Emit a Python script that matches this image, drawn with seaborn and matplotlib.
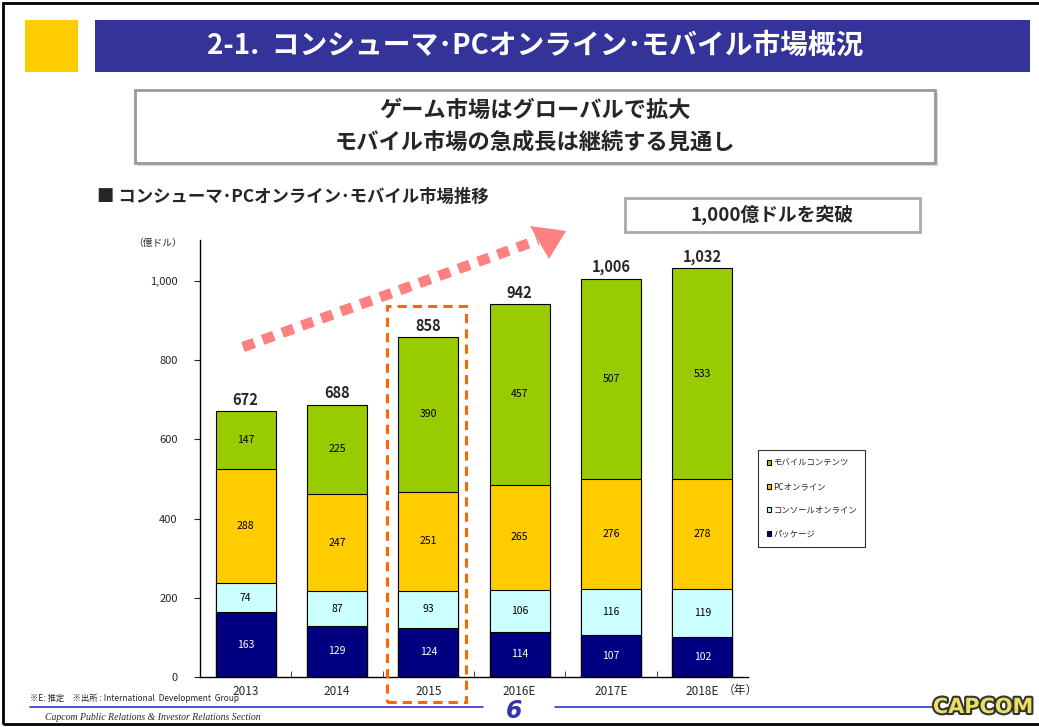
import numpy as np
import pandas as pd
import matplotlib
matplotlib.use("Agg")
import matplotlib.pyplot as plt
import matplotlib.patches as mpatches
import matplotlib.patheffects as pe
import seaborn as sns

sns.set_style("white")
plt.rcParams['font.family'] = ['Noto Sans CJK JP', 'DejaVu Sans']

years = ["2013", "2014", "2015", "2016E", "2017E", "2018E"]
package = [163, 129, 124, 114, 107, 102]
console = [74, 87, 93, 106, 116, 119]
pc = [288, 247, 251, 265, 276, 278]
mobile = [147, 225, 390, 457, 507, 533]
series_names = ["パッケージ", "コンソールオンライン", "PCオンライン", "モバイルコンテンツ"]
colors = ["#000080", "#CCFFFF", "#FFCC00", "#99CC00"]
yticks = [0, 200, 400, 600, 800, 1000]

layers = [package, console, pc, mobile]
cum = np.cumsum(np.array(layers), axis=0)
totals = cum[-1]

W, H = 1039, 727
fig = plt.figure(figsize=(W / 100, H / 100), dpi=100)

def fx(x):
    return x / W

def fy(y):
    return 1 - y / H

# slide frame
fig.add_artist(mpatches.Rectangle((fx(3), fy(724)), fx(1060), fy(3) - fy(724), transform=fig.transFigure,
                                  fill=False, edgecolor="black", linewidth=2))
# title bar
fig.add_artist(mpatches.Rectangle((fx(25), fy(72)), fx(53), fy(20) - fy(72), transform=fig.transFigure,
                                  facecolor="#FFCC00", edgecolor="none"))
fig.add_artist(mpatches.Rectangle((fx(95), fy(72)), fx(935), fy(20) - fy(72), transform=fig.transFigure,
                                  facecolor="#333399", edgecolor="none"))
fig.text(fx(535), fy(46), "2-1.  コンシューマ･PCオンライン･モバイル市場概況", color="white", fontsize=20,
         fontweight="bold", ha="center", va="center")

# headline box
fig.add_artist(mpatches.Rectangle((fx(138), fy(166)), fx(800), fy(93) - fy(166), transform=fig.transFigure,
                                  facecolor="#D9D9D9", edgecolor="none"))
fig.add_artist(mpatches.Rectangle((fx(135), fy(163)), fx(800), fy(90) - fy(163), transform=fig.transFigure,
                                  facecolor="white", edgecolor="#999999", linewidth=2))
fig.text(fx(535), fy(110), "ゲーム市場はグローバルで拡大", fontsize=16, fontweight="bold", ha="center", va="center")
fig.text(fx(535), fy(142), "モバイル市場の急成長は継続する見通し", fontsize=16, fontweight="bold", ha="center", va="center")

# section heading
fig.text(fx(97), fy(197), "■ コンシューマ･PCオンライン･モバイル市場推移", fontsize=12.5, fontweight="bold",
         ha="left", va="center")

# callout box
fig.add_artist(mpatches.Rectangle((fx(625), fy(232)), fx(295), fy(198) - fy(232), transform=fig.transFigure,
                                  facecolor="white", edgecolor="#AAAAAA", linewidth=2))
fig.text(fx(772), fy(215), "1,000億ドルを突破", fontsize=13.5, fontweight="bold", ha="center", va="center")

# main axes
ax = fig.add_axes([fx(200), fy(677), fx(548), fy(240) - fy(677)])
df = pd.DataFrame({"year": years})
for i in range(3, -1, -1):
    df["v"] = cum[i]
    sns.barplot(data=df, x="year", y="v", color=colors[i], ax=ax, width=0.66,
                edgecolor="black", linewidth=0.8, saturation=1, order=years)

ax.set_ylim(0, (677 - 240) / 0.396)
ax.set_xlim(-0.5, 5.5)
ax.set_yticks(yticks)
ax.set_yticklabels([f"{v:,}" for v in yticks], fontsize=8)
ax.set_xticks(range(len(years)))
ax.set_xticklabels(years, fontsize=8.5)
ax.set_xlabel("")
ax.set_ylabel("")
ax.tick_params(axis="x", length=0, pad=6)
ax.tick_params(axis="y", length=4, direction="out", left=True, pad=12)
ax.set_xticks(np.arange(0.5, 5.5, 1), minor=True)
ax.tick_params(axis="x", which="minor", length=4, direction="in", bottom=True)
for s in ["top", "right"]:
    ax.spines[s].set_visible(False)
for s in ["left", "bottom"]:
    ax.spines[s].set_color("black")
    ax.spines[s].set_linewidth(1)

# segment labels
for i, layer in enumerate(layers):
    base = cum[i] - np.array(layer)
    for j, v in enumerate(layer):
        ax.text(j, base[j] + v / 2, str(v), ha="center", va="center", fontsize=7.5,
                color="white" if i == 0 else "black")
for j, t in enumerate(totals):
    ax.text(j, t + 8, f"{t:,}", ha="center", va="bottom", fontsize=10.5, fontweight="bold")

fig.text(fx(158), fy(243), "（億ドル）", fontsize=7, ha="center", va="center")
fig.text(fx(740), fy(690), "（年）", fontsize=8.5, ha="center", va="center")

# legend
handles = [mpatches.Patch(facecolor=colors[i], edgecolor="black", linewidth=0.8, label=series_names[i])
           for i in range(3, -1, -1)]
leg = fig.legend(handles=handles, loc="upper left", bbox_to_anchor=(fx(754), fy(446)), fontsize=6,
                 frameon=True, fancybox=False, edgecolor="black", handlelength=0.5, handleheight=0.5,
                 labelspacing=1.75, handletextpad=0.3, borderpad=1.0)
leg.get_frame().set_linewidth(0.8)

# trend arrow: dashed shaft + triangular head
fig.add_artist(plt.Line2D([fx(243), fx(538)], [fy(347), fy(240)], transform=fig.transFigure,
                          color="#FF8080", linewidth=7.5, linestyle=(0, (1.15, 0.85)),
                          dash_capstyle="butt"))
fig.add_artist(mpatches.Polygon([(fx(566), fy(231)), (fx(530), fy(226)), (fx(549), fy(259))],
                                closed=True, transform=fig.transFigure, facecolor="#FF8080",
                                edgecolor="none"))

# highlight 2015
fig.add_artist(mpatches.Rectangle((fx(387), fy(702)), fx(79), fy(306) - fy(702), transform=fig.transFigure,
                                  fill=False, edgecolor="#FF6600", linewidth=2.2, linestyle=(0, (3, 2))))

# footer
fig.text(fx(30), fy(698), "※E: 推定　※出所 : International  Development  Group", fontsize=6, ha="left", va="center")
fig.add_artist(plt.Line2D([fx(30), fx(483)], [fy(707), fy(707)], transform=fig.transFigure, color="#3333CC", linewidth=1.2))
fig.add_artist(plt.Line2D([fx(555), fx(935)], [fy(707), fy(707)], transform=fig.transFigure, color="#3333CC", linewidth=1.2))
fig.text(fx(45), fy(717), "Capcom Public Relations & Investor Relations Section", fontsize=7, fontstyle="italic",
         family="Liberation Serif", ha="left", va="center")
fig.text(fx(514), fy(711), "6", fontsize=17, fontstyle="italic", fontweight="bold", color="#3333AA",
         family="DejaVu Sans", ha="center", va="center")
t = fig.text(fx(983), fy(707), "CAPCOM", fontsize=15, fontweight="bold", color="#E8E060",
             family="DejaVu Sans", ha="center", va="center")
t.set_path_effects([pe.withStroke(linewidth=3, foreground="#333333")])

fig.savefig("out.png", dpi=100)
